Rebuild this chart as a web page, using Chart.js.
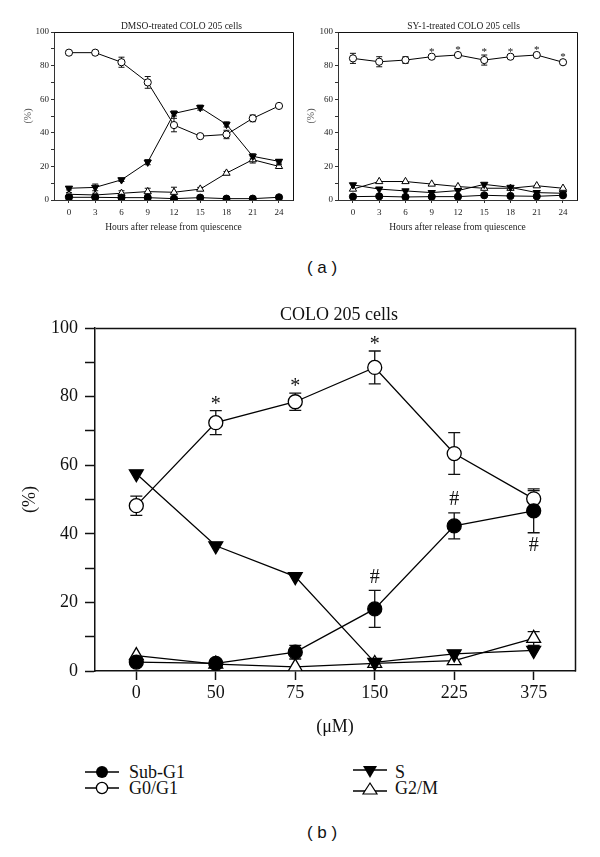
<!DOCTYPE html>
<html>
<head>
<meta charset="utf-8">
<script src="https://cdn.jsdelivr.net/npm/chart.js@4.4.0/dist/chart.umd.min.js"></script>
<style>
  body { margin: 0; background: #fff; width: 600px; height: 857px; position: relative; overflow: hidden; }
  canvas { position: absolute; }
  .lbl { position: absolute; width: 100px; text-align: center; font-family: "Liberation Sans", Arial, sans-serif; font-size: 17px; color: #111; }
  .item { position: absolute; height: 16px; line-height: 16px; font-family: "Liberation Serif", "Times New Roman", serif; font-size: 18px; color: #111; white-space: nowrap; }
  .item svg { position: absolute; left: 0; top: 0; }
  .item span { position: absolute; top: 0; }
</style>
</head>
<body>
<canvas id="dmso" width="300" height="240" style="left:0;top:0"></canvas>
<canvas id="sy1" width="300" height="240" style="left:300px;top:0"></canvas>
<div class="lbl" style="left:272px;top:258px">( a )</div>
<canvas id="colo" width="600" height="460" style="left:0;top:290px"></canvas>

<div class="item" style="left:85px;top:764px">
  <svg width="34" height="16"><line x1="0" y1="8" x2="34" y2="8" stroke="#000" stroke-width="1.3"/><circle cx="17" cy="8" r="6" fill="#000"/></svg>
  <span style="left:44px">Sub-G1</span>
</div>
<div class="item" style="left:85px;top:780px">
  <svg width="34" height="16"><line x1="0" y1="8" x2="34" y2="8" stroke="#000" stroke-width="1.3"/><circle cx="17" cy="8" r="5.6" fill="#fff" stroke="#000" stroke-width="1.3"/></svg>
  <span style="left:44px">G0/G1</span>
</div>
<div class="item" style="left:353px;top:764px">
  <svg width="34" height="16"><line x1="0" y1="6" x2="34" y2="6" stroke="#000" stroke-width="1.3"/><polygon points="10,2 24,2 17,14" fill="#000"/></svg>
  <span style="left:42px">S</span>
</div>
<div class="item" style="left:353px;top:780px">
  <svg width="34" height="16"><line x1="0" y1="11" x2="34" y2="11" stroke="#000" stroke-width="1.3"/><polygon points="17,3 24,14 10,14" fill="#fff" stroke="#000" stroke-width="1.2"/></svg>
  <span style="left:42px">G2/M</span>
</div>
<div class="lbl" style="left:272px;top:823px">( b )</div>

<script>
// time course, hours after release
const hours = [0, 3, 6, 9, 12, 15, 18, 21, 24];

// DMSO-treated
const dmsoSub = [1.6, 1.6, 1.4, 1.4, 0.8, 1.4, 0.8, 0.8, 1.6];
const dmsoG0 = [87.7, 87.7, 82, 70, 44.6, 38, 39, 48.6, 56];
const dmsoS = [7, 7.5, 12, 22.5, 51.5, 55, 45, 26, 23];
const dmsoG2 = [3.4, 3, 4, 5, 4.6, 6.5, 16, 24, 20];
const dmsoG0Err = [1.2, 1.2, 3, 3.5, 4, 1, 2.5, 2, 1];
const dmsoSErr = [1, 2, 1, 1.5, 1.5, 1.5, 1.5, 1.5, 1];
const dmsoG2Err = [1, 1, 1.5, 2, 3, 1, 1, 2, 1];

// SY-1-treated
const sySub = [2, 2.2, 1.8, 2, 2, 2.8, 2.4, 2.2, 2.8];
const syG0 = [84.3, 82.3, 83.3, 85.3, 86.3, 83.3, 85.3, 86.3, 82];
const syS = [9, 6.5, 5.4, 4.4, 5.6, 9.3, 7.5, 4.4, 4];
const syG2 = [6.5, 11, 11, 9.5, 8, 7, 7, 8.5, 7];
const syG0Err = [3, 3, 2, 1, 1, 3, 1, 1, 1];
const syG0Marks = ['', '', '', '*', '*', '*', '*', '*', '*'];

// dose response (uM)
const doses = ['0', '50', '75', '150', '225', '375'];
const subG1 = [2.6, 2.2, 5.5, 18.1, 42.3, 46.7];
const g0g1 = [48.2, 72.4, 78.5, 88.5, 63.4, 50.2];
const sPhase = [57.5, 36.5, 27.5, 2.5, 5, 6];
const g2m = [4.5, 2, 1.2, 2.2, 3, 9.5];
const subG1Err = [0.5, 0, 2, 5.4, 3.8, 6.4];
const g0g1Err = [2.8, 3.5, 2.5, 4.8, 6.1, 2.4];
const g2mErr = [0, 0, 0, 0, 0, 2];
const g0g1Marks = ['', '*', '*', '*', '', ''];
const subG1Marks = ['', '', '', '#', '#', ''];
const subG1MarksBelow = ['', '', '', '', '', '#'];

Chart.defaults.font.family = '"Liberation Serif", "Times New Roman", serif';
Chart.defaults.color = '#111';

const INK = '#111';

// vertical error bars with caps, drawn under the markers
const errorBars = {
  id: 'errorBars',
  beforeDatasetsDraw(chart, args, opts) {
    const ctx = chart.ctx;
    const y = chart.scales.y;
    chart.data.datasets.forEach((ds, di) => {
      if (!ds.errors) return;
      const meta = chart.getDatasetMeta(di);
      ctx.save();
      ctx.strokeStyle = INK;
      ctx.lineWidth = opts.width;
      meta.data.forEach((pt, i) => {
        const e = ds.errors[i];
        if (!e) return;
        const v = ds.data[i].y;
        const top = y.getPixelForValue(v + e);
        const bot = y.getPixelForValue(v - e);
        ctx.beginPath();
        ctx.moveTo(pt.x, top);
        ctx.lineTo(pt.x, bot);
        ctx.moveTo(pt.x - opts.cap, top);
        ctx.lineTo(pt.x + opts.cap, top);
        ctx.moveTo(pt.x - opts.cap, bot);
        ctx.lineTo(pt.x + opts.cap, bot);
        ctx.stroke();
      });
      ctx.restore();
    });
  }
};

// significance marks (* and #) above or below the error bars
const sigMarks = {
  id: 'sigMarks',
  afterDatasetsDraw(chart, args, opts) {
    const ctx = chart.ctx;
    const y = chart.scales.y;
    ctx.save();
    ctx.fillStyle = INK;
    ctx.font = opts.size + 'px "Liberation Serif", serif';
    ctx.textAlign = 'center';
    ctx.textBaseline = 'middle';
    chart.data.datasets.forEach((ds, di) => {
      const meta = chart.getDatasetMeta(di);
      const err = (i) => (ds.errors ? ds.errors[i] : 0);
      (ds.marks || []).forEach((m, i) => {
        if (!m) return;
        const py = y.getPixelForValue(ds.data[i].y + err(i)) - ds.markGap;
        ctx.fillText(m, meta.data[i].x, py);
      });
      (ds.marksBelow || []).forEach((m, i) => {
        if (!m) return;
        const py = y.getPixelForValue(ds.data[i].y - err(i)) + ds.markGap;
        ctx.fillText(m, meta.data[i].x, py);
      });
    });
    ctx.restore();
  }
};

// top and right edges of the plot box
const frame = {
  id: 'frame',
  beforeDatasetsDraw(chart, args, opts) {
    const { ctx, chartArea: a } = chart;
    const off = opts.width % 2 ? 0.5 : 0;
    ctx.save();
    ctx.strokeStyle = INK;
    ctx.lineWidth = opts.width;
    ctx.beginPath();
    ctx.moveTo(Math.round(a.left) + off, Math.round(a.top) + off);
    ctx.lineTo(Math.round(a.right) + off, Math.round(a.top) + off);
    ctx.lineTo(Math.round(a.right) + off, Math.round(a.bottom) + off);
    ctx.stroke();
    ctx.restore();
  }
};

// panel caption above the plot box, a little right of centre
const caption = {
  id: 'caption',
  afterDraw(chart, args, opts) {
    const { ctx, chartArea: a } = chart;
    ctx.save();
    ctx.fillStyle = opts.color;
    ctx.font = opts.size + 'px "Liberation Serif", serif';
    ctx.textAlign = 'center';
    ctx.textBaseline = 'middle';
    ctx.fillText(opts.text, (a.left + a.right) / 2 + opts.dx, a.top - opts.gap);
    ctx.restore();
  }
};

function pts(xs, ys) {
  return xs.map((x, i) => ({ x: x, y: ys[i] }));
}

function makeSets(xs, sub, g0, s, g2, r, lw) {
  return [
    { label: 'Sub-G1', data: pts(xs, sub.vals), errors: sub.err, marks: sub.marks, marksBelow: sub.below, markGap: sub.gap,
      pointStyle: 'circle', pointRadius: r.c, backgroundColor: '#000', borderColor: '#000', borderWidth: lw },
    { label: 'G0/G1', data: pts(xs, g0.vals), errors: g0.err, marks: g0.marks, markGap: g0.gap,
      pointStyle: 'circle', pointRadius: r.c, backgroundColor: '#fff', borderColor: '#000', borderWidth: lw },
    { label: 'S', data: pts(xs, s.vals), errors: s.err,
      pointStyle: 'triangle', pointRotation: 180, pointRadius: r.t, backgroundColor: '#000', borderColor: '#000', borderWidth: lw },
    { label: 'G2/M', data: pts(xs, g2.vals), errors: g2.err,
      pointStyle: 'triangle', pointRadius: r.t, backgroundColor: '#fff', borderColor: '#000', borderWidth: lw }
  ];
}

function smallChart(id, title, dx, sets, yWidth, padRight, yTitlePad) {
  new Chart(document.getElementById(id), {
    type: 'line',
    data: { datasets: sets },
    options: {
      responsive: false,
      animation: false,
      layout: { padding: { left: 0, right: padRight, top: 32, bottom: 0 } },
      elements: { line: { tension: 0 } },
      plugins: {
        legend: { display: false },
        tooltip: { enabled: false },
        caption: { text: title, size: 9.5, color: '#222', dx: dx, gap: 6 },
        errorBars: { cap: 3, width: 1 },
        sigMarks: { size: 11 },
        frame: { width: 1 }
      },
      scales: {
        x: {
          type: 'linear', min: -1.71, max: 25.6,
          afterBuildTicks: (s) => { s.ticks = hours.map((h) => ({ value: h })); },
          afterFit: (s) => { s.height = 40; },
          ticks: { font: { size: 9 }, color: '#222', padding: 4 },
          grid: { drawOnChartArea: false, tickLength: 3, color: '#333', tickWidth: 1 },
          border: { color: '#333', width: 1 },
          title: { display: true, text: 'Hours after release from quiescence', color: '#222', font: { size: 9.5 }, padding: { top: 0, bottom: 7.3 } }
        },
        y: {
          min: 0, max: 100,
          afterFit: (s) => { s.width = yWidth; },
          ticks: { stepSize: 10, font: { size: 9 }, color: '#222', padding: 2, callback: (v) => (v % 20 === 0 ? v : '') },
          grid: { drawOnChartArea: false, tickLength: 3, color: '#333', tickWidth: 1 },
          border: { color: '#333', width: 1 },
          title: { display: true, text: '(%)', color: '#555', font: { size: 10 }, padding: { top: yTitlePad, bottom: 0 } }
        }
      }
    },
    plugins: [errorBars, sigMarks, frame, caption]
  });
}

const smallR = { c: 3.6, t: 4.2 };

smallChart('dmso', 'DMSO-treated COLO 205 cells', 8, makeSets(hours,
  { vals: dmsoSub },
  { vals: dmsoG0, err: dmsoG0Err },
  { vals: dmsoS, err: dmsoSErr },
  { vals: dmsoG2, err: dmsoG2Err }, smallR, 1), 54, 7, 22);

smallChart('sy1', 'SY-1-treated COLO 205 cells', 6, makeSets(hours,
  { vals: sySub },
  { vals: syG0, err: syG0Err, marks: syG0Marks, gap: 3 },
  { vals: syS },
  { vals: syG2 }, smallR, 1), 38, 23, 5);

const idx = doses.map((d, i) => i);

new Chart(document.getElementById('colo'), {
  type: 'line',
  data: {
    datasets: makeSets(idx,
      { vals: subG1, err: subG1Err, marks: subG1Marks, below: subG1MarksBelow, gap: 13 },
      { vals: g0g1, err: g0g1Err, marks: g0g1Marks, gap: 6 },
      { vals: sPhase },
      { vals: g2m, err: g2mErr }, { c: 7, t: 8 }, 1.3)
  },
  options: {
    responsive: false,
    animation: false,
    layout: { padding: { left: 0, right: 25, top: 38, bottom: 0 } },
    elements: { line: { tension: 0 } },
    plugins: {
      legend: { display: false },
      tooltip: { enabled: false },
      caption: { text: 'COLO 205 cells', size: 18, color: INK, dx: 4, gap: 13 },
      errorBars: { cap: 6, width: 1.3 },
      sigMarks: { size: 20 },
      frame: { width: 1.5 }
    },
    scales: {
      x: {
        type: 'linear', min: -0.52, max: 5.52,
        afterBuildTicks: (s) => { s.ticks = idx.map((i) => ({ value: i })); },
        afterFit: (s) => { s.height = 79; },
        ticks: { font: { size: 18 }, color: INK, padding: 2, callback: (v) => doses[v] },
        grid: { drawOnChartArea: false, tickLength: 9, color: INK, tickWidth: 1.5 },
        border: { color: INK, width: 1.5 },
        title: { display: true, text: '(μM)', color: INK, font: { size: 18 }, padding: { top: 0, bottom: 12 } }
      },
      y: {
        min: 0, max: 100,
        afterFit: (s) => { s.width = 95; },
        ticks: { stepSize: 10, font: { size: 18 }, color: INK, padding: 7, callback: (v) => (v % 20 === 0 ? v : '') },
        grid: { drawOnChartArea: false, tickLength: 10, color: INK, tickWidth: 1.5 },
        border: { color: INK, width: 1.5 },
        title: { display: true, text: '(%)', color: INK, font: { size: 18 }, padding: { top: 19, bottom: 0 } }
      }
    }
  },
  plugins: [errorBars, sigMarks, frame, caption]
});
</script>
</body>
</html>
